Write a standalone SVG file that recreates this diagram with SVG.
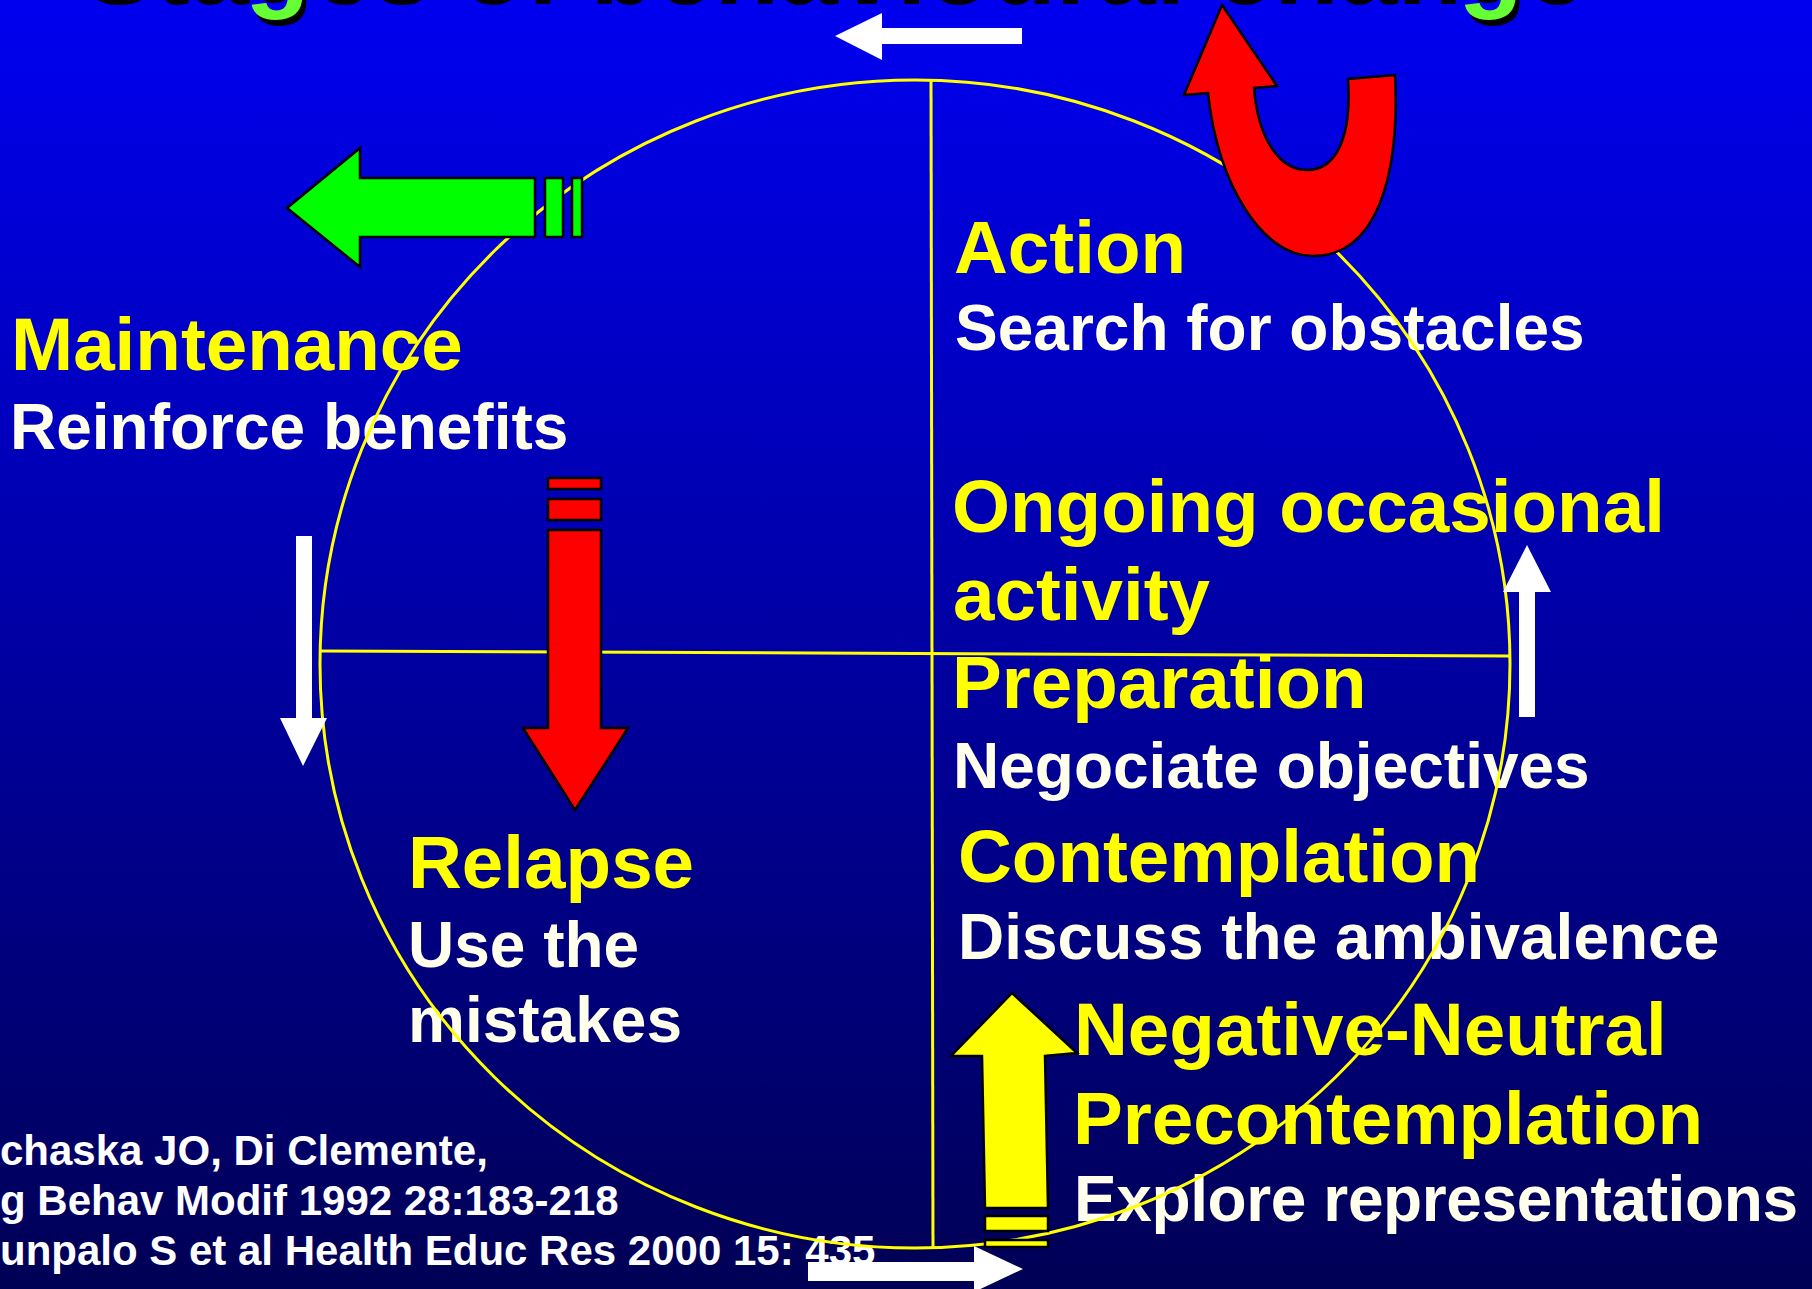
<svg xmlns="http://www.w3.org/2000/svg" width="1812" height="1289" viewBox="0 0 1812 1289">
<defs>
<linearGradient id="bg" x1="0" y1="0" x2="0" y2="1">
<stop offset="0" stop-color="#0000F0"/>
<stop offset="1" stop-color="#000055"/>
</linearGradient>
</defs>
<style>
.t{font-family:"Liberation Sans",Arial,sans-serif;font-weight:bold}
.y{fill:#FFFF00;font-size:74.6px}
.w{fill:#FFFFEC;font-size:64px}
.r{fill:#FFFFFF;font-size:42px}
.wa{fill:#FFFFFF}
.ring{fill:none;stroke:#FFFF00;stroke-width:3}
.blk{stroke:#000000;stroke-width:2.5;stroke-linejoin:miter}
</style>
<rect x="0" y="0" width="1812" height="1289" fill="url(#bg)"/>
<g id="title" class="t" font-size="106">
<text x="84" y="4" fill="#000000">Stages of behavioural change</text>
<text x="80" y="-2" fill="#66FF33">Stages of behavioural change</text>
</g>
<g id="texts" class="t">
<text class="y" x="954" y="273">Action</text>
<text class="w" x="955" y="350">Search for obstacles</text>
<text class="y" x="11" y="370">Maintenance</text>
<text class="w" x="10" y="449">Reinforce benefits</text>
<text class="y" x="952" y="532">Ongoing occasional</text>
<text class="y" x="953" y="620">activity</text>
<text class="y" x="952" y="708">Preparation</text>
<text class="w" x="953" y="788">Negociate objectives</text>
<text class="y" x="958" y="882">Contemplation</text>
<text class="w" x="958" y="959">Discuss the ambivalence</text>
<text class="y" x="408" y="888">Relapse</text>
<text class="w" x="408" y="967">Use the</text>
<text class="w" x="408" y="1042">mistakes</text>
<text class="y" x="1074" y="1055">Negative-Neutral</text>
<text class="y" x="1073" y="1144">Precontemplation</text>
<text class="w" x="1074" y="1221" textLength="724">Explore representations</text>
<text class="r" x="0" y="1165">chaska JO, Di Clemente,</text>
<text class="r" x="0" y="1215">g Behav Modif 1992 28:183-218</text>
<text class="r" x="0" y="1265">unpalo S et al Health Educ Res 2000 15: 435</text>
</g>
<g id="cycle">
<ellipse class="ring" cx="915" cy="664" rx="595" ry="584"/>
<line class="ring" x1="931" y1="79" x2="933" y2="1248"/>
<line class="ring" x1="321" y1="651" x2="1509" y2="656"/>
</g>
<g id="connectors">
<polygon id="arrow-top-white" class="wa" points="835,36 882,13 882,28 1022,28 1022,44 882,44 882,60"/>
<polygon id="arrow-left-white" class="wa" points="296,536 312,536 312,718 327,718 303,766 280,718 296,718"/>
<polygon id="arrow-right-white" class="wa" points="1527,545 1551,592 1535,592 1535,717 1519,717 1519,592 1503,592"/>
<polygon id="arrow-bottom-white" class="wa" points="808,1262 974,1262 974,1246 1023,1269 974,1292 974,1281 808,1281"/>
<g id="arrow-green" fill="#00FF00" class="blk">
<polygon points="287,208 360,148 360,178 535,178 535,237 360,237 360,267"/>
<rect x="545" y="178" width="18" height="59"/>
<rect x="572" y="178" width="10" height="59"/>
</g>
<path id="arrow-red-u" fill="#FF0000" class="blk" d="M1208,93 C1218,185 1262,256 1313,256 C1375,256 1400,180 1395,75 L1348,79 C1352,140 1335,170 1307,170 C1280,170 1258,140 1254,88 L1277,86 L1222,5 L1184,95 Z"/>
<g id="arrow-red-down" fill="#FF0000" class="blk">
<rect x="548" y="478" width="53" height="11"/>
<rect x="548" y="499" width="53" height="21"/>
<polygon points="548,530 601,530 601,728 628,728 575,810 523,728 548,728"/>
</g>
<g id="arrow-yellow-up" fill="#FFFF00" class="blk">
<polygon points="1012,993 1077,1053 1045,1056 1048,1208 985,1208 982,1056 951,1056"/>
<rect x="985" y="1216" width="63" height="15"/>
<rect x="985" y="1240" width="63" height="7"/>
</g>
</g>
</svg>
